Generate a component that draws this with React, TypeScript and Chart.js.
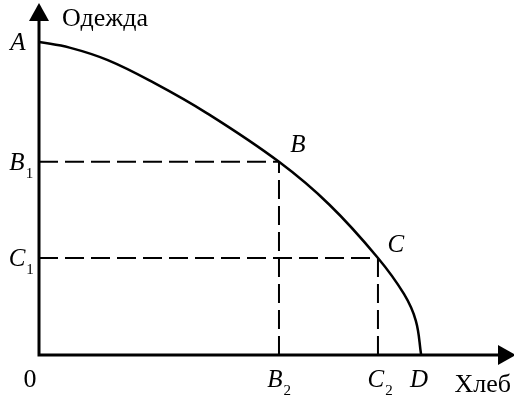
import React, { useEffect, useRef } from "react";
import { Chart, registerables } from "chart.js";

Chart.register(...registerables);

// Production possibilities frontier (units: A = 100 on the y axis, D = 100 on the x axis)
const curveX = [0, 8, 18, 30, 44, 62.8, 76, 88.7, 95.5, 98.6, 100];
const curveY = [100, 98.2, 94.2, 87, 77.2, 61.7, 48, 31.0, 19.5, 11, 0];

// Named points on the frontier
const pointNames = ["A", "B", "C", "D"];
const pointX = [0, 62.8, 88.7, 100];
const pointY = [100, 61.7, 31.0, 0];

// Axis extents and titles
const xAxisMax = 124.3;
const yAxisMax = 113.4;
const xAxisTitle = "Хлеб";
const yAxisTitle = "Одежда";
const originLabel = "0";

const SERIF = "'Liberation Serif', 'Times New Roman', serif";

export default function App() {
  const ref = useRef<HTMLCanvasElement | null>(null);

  useEffect(() => {
    if (!ref.current) return;
    const [, bx, cx] = pointX;
    const [, by, cy] = pointY;

    const dashed = (pts: { x: number; y: number }[]) => ({
      data: pts,
      borderColor: "#000",
      borderWidth: 2,
      borderDash: [19, 7],
      pointRadius: 0,
      fill: false,
      tension: 0,
    });

    const overlay = {
      id: "overlay",
      beforeDatasetsDraw(chart: any) {
        const { ctx, scales } = chart;
        const X = (v: number) => scales.x.getPixelForValue(v);
        const Y = (v: number) => scales.y.getPixelForValue(v);
        const ox = X(0);
        const oy = Y(0);
        const xEnd = X(xAxisMax);
        const yTop = Y(yAxisMax);
        ctx.save();
        ctx.strokeStyle = "#000";
        ctx.fillStyle = "#000";
        ctx.lineWidth = 3;
        ctx.lineCap = "square";
        ctx.beginPath();
        ctx.moveTo(ox, yTop + 18);
        ctx.lineTo(ox, oy);
        ctx.lineTo(xEnd - 16, oy);
        ctx.stroke();
        // y arrow
        ctx.beginPath();
        ctx.moveTo(ox, yTop + 3);
        ctx.lineTo(ox - 10, yTop + 21);
        ctx.lineTo(ox + 10, yTop + 21);
        ctx.closePath();
        ctx.fill();
        // x arrow
        ctx.beginPath();
        ctx.moveTo(xEnd + 2, oy);
        ctx.lineTo(xEnd - 16, oy - 10);
        ctx.lineTo(xEnd - 16, oy + 10);
        ctx.closePath();
        ctx.fill();
        ctx.restore();
      },
      afterDatasetsDraw(chart: any) {
        const { ctx, scales } = chart;
        const X = (v: number) => scales.x.getPixelForValue(v);
        const Y = (v: number) => scales.y.getPixelForValue(v);
        ctx.save();
        ctx.fillStyle = "#000";
        ctx.textBaseline = "alphabetic";
        const italic = `italic 25px ${SERIF}`;
        const upright = `26px ${SERIF}`;
        const subFont = `15px ${SERIF}`;

        const label = (text: string, sub: string, py: number, center: number, font: string) => {
          ctx.font = font;
          const w = ctx.measureText(text).width;
          const left = center - w / 2;
          ctx.textAlign = "left";
          ctx.fillText(text, left, py);
          if (sub) {
            ctx.font = subFont;
            ctx.fillText(sub, left + w + 1, py + 8);
          }
        };

        // A
        label(pointNames[0], "", Y(pointY[0]) + 8, X(0) - 21, italic);
        // B1, C1 on y axis
        label(pointNames[1], "1", Y(by) + 8, X(0) - 22, italic);
        label(pointNames[2], "1", Y(cy) + 8, X(0) - 22, italic);
        // B, C beside the curve
        label(pointNames[1], "", Y(by) - 10, X(bx) + 19, italic);
        label(pointNames[2], "", Y(cy) - 6, X(cx) + 18, italic);
        // B2, C2, D on x axis
        const base = Y(0) + 32;
        label(pointNames[1], "2", base, X(bx) - 4, italic);
        label(pointNames[2], "2", base, X(cx) - 2, italic);
        label(pointNames[3], "", base, X(pointX[3]) - 2, italic);
        // origin
        label(originLabel, "", base, X(0) - 9, upright);
        // axis titles
        ctx.font = upright;
        ctx.textAlign = "left";
        ctx.fillText(yAxisTitle, X(0) + 23, Y(yAxisMax) + 26);
        ctx.textAlign = "right";
        ctx.fillText(xAxisTitle, X(xAxisMax) - 3, Y(0) + 37);
        ctx.restore();
      },
    };

    const chart = new Chart(ref.current, {
      type: "line",
      data: {
        datasets: [
          {
            data: curveX.map((x, i) => ({ x, y: curveY[i] })),
            borderColor: "#000",
            borderWidth: 2.5,
            pointRadius: 0,
            fill: false,
            tension: 0.4,
          } as any,
          dashed([{ x: 0, y: by }, { x: bx, y: by }]),
          dashed([{ x: bx, y: 0 }, { x: bx, y: by }]),
          dashed([{ x: 0, y: cy }, { x: cx, y: cy }]),
          dashed([{ x: cx, y: 0 }, { x: cx, y: cy }]),
        ],
      },
      options: {
        responsive: false,
        maintainAspectRatio: false,
        animation: false,
        devicePixelRatio: 1,
        layout: { padding: { left: 39, top: 0, right: 0, bottom: 41 } },
        plugins: {
          legend: { display: false },
          tooltip: { enabled: false },
        },
        scales: {
          x: { type: "linear", min: 0, max: xAxisMax, display: false },
          y: { type: "linear", min: 0, max: yAxisMax, display: false },
        },
      },
      plugins: [overlay],
    });
    return () => chart.destroy();
  }, []);

  return (
    <div style={{ position: "fixed", left: 0, top: 0, width: 514, height: 396, background: "#fff" }}>
      <canvas ref={ref} width={514} height={396} />
    </div>
  );
}
